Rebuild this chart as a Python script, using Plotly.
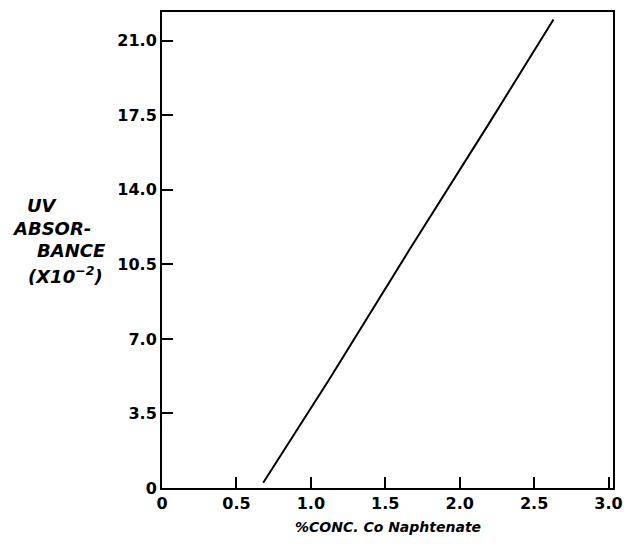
import plotly.graph_objects as go

# Data
conc = [0.68, 1.12, 1.66, 2.21, 2.63]
absorbance = [0.25, 5.06, 11.16, 17.26, 22.0]

x_ticks = [0, 0.5, 1.0, 1.5, 2.0, 2.5, 3.0]
x_tick_text = ["0", "0.5", "1.0", "1.5", "2.0", "2.5", "3.0"]
y_ticks = [0, 3.5, 7.0, 10.5, 14.0, 17.5, 21.0]
y_tick_text = ["0", "3.5", "7.0", "10.5", "14.0", "17.5", "21.0"]

W, H = 624, 544
L, T = 162, 12
R = W - 613
B = H - 488
pw, ph = W - L - R, H - T - B

def px(xp):
    return (xp - L) / pw

def py(yp):
    return (H - B - yp) / ph

fig = go.Figure()
fig.add_trace(go.Scatter(x=conc, y=absorbance, mode="lines",
                         line=dict(color="black", width=2), showlegend=False,
                         hoverinfo="skip"))

font_tick = dict(family="DejaVu Sans", size=16, color="black", weight="bold")
fig.update_xaxes(range=[0, 3.03], tickvals=x_ticks, ticktext=x_tick_text,
                 ticks="inside", ticklen=11, tickwidth=2, tickcolor="black",
                 showline=True, linecolor="black", linewidth=2, mirror=True,
                 showgrid=False, zeroline=False, tickfont=font_tick,
                 automargin=False, ticklabeloverflow="allow")
fig.update_yaxes(range=[0, 22.35], tickvals=y_ticks, ticktext=y_tick_text,
                 ticks="inside", ticklen=11, tickwidth=2, tickcolor="black",
                 showline=True, linecolor="black", linewidth=2, mirror=True,
                 showgrid=False, zeroline=False, tickfont=font_tick,
                 automargin=False, ticklabeloverflow="allow")

xt_font = dict(family="DejaVu Sans", size=14, color="black")
yt_font = dict(family="DejaVu Sans", size=18, color="black")
fig.add_annotation(xref="paper", yref="paper", showarrow=False, font=xt_font,
                   text="<b><i>%CONC. Co Naphtenate</i></b>", x=px(388), y=py(527),
                   xanchor="center", yanchor="middle")
ylines = [
    dict(text="<b><i>UV</i></b>", x=px(25), y=py(205)),
    dict(text="<b><i>ABSOR-</i></b>", x=px(10), y=py(228)),
    dict(text="<b><i>BANCE</i></b>", x=px(35), y=py(250)),
    dict(text="<b><i>(X10<sup>−2</sup>)</i></b>", x=px(26), y=py(275)),
]
for a in ylines:
    fig.add_annotation(xref="paper", yref="paper", showarrow=False,
                       font=yt_font, xanchor="left", yanchor="middle", **a)

fig.update_layout(width=W, height=H, margin=dict(l=L, r=R, t=T, b=B),
                  plot_bgcolor="white", paper_bgcolor="white")
fig.write_html("out.html", config={"displayModeBar": False},
               post_script="document.body.style.margin='0';document.body.style.overflow='hidden';")
